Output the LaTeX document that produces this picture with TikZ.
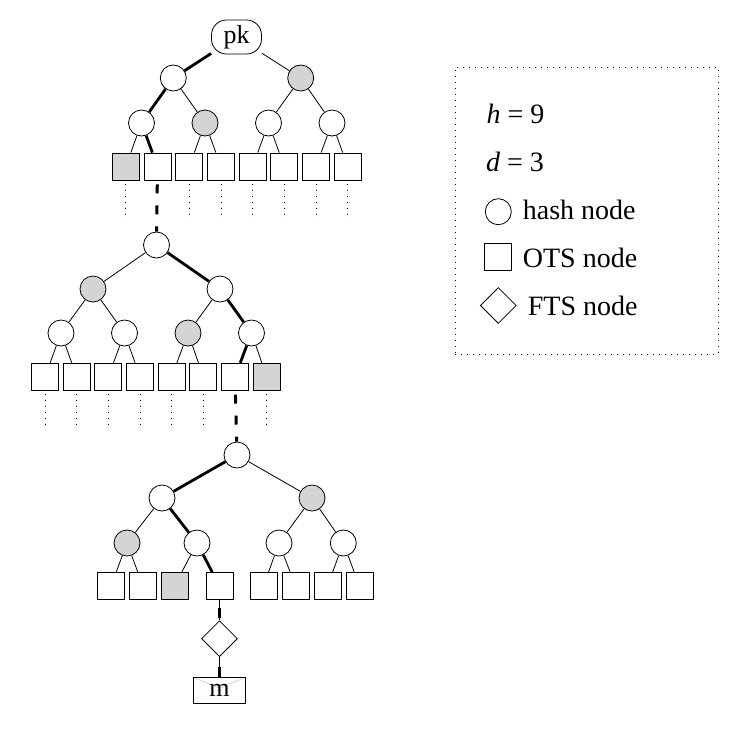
\documentclass[tikz,border=0pt]{standalone}
\usepackage{fontspec}
\setmainfont{Liberation Serif}
\usetikzlibrary{shapes.geometric}
\definecolor{lightg}{RGB}{212,212,212}
\begin{document}
\begin{tikzpicture}[x=1pt,y=-1pt,
  hnode/.style={circle,draw,line width=0.8pt,minimum size=26pt,inner sep=0pt,fill=white},
  onode/.style={rectangle,draw,line width=0.8pt,minimum size=27pt,inner sep=0pt,fill=white},
  fnode/.style={diamond,draw,line width=0.8pt,minimum size=36pt,inner sep=0pt,fill=white},
  gr/.style={fill=lightg},
  pknode/.style={rectangle,rounded corners=15pt,draw,line width=0.8pt,minimum width=50pt,minimum height=34pt,inner sep=0pt,fill=white,font=\fontsize{26}{30}\selectfont},
  msgnode/.style={rectangle,draw,line width=0.8pt,minimum width=52pt,minimum height=26pt,inner sep=0pt,font=\fontsize{26}{30}\selectfont,
    path picture={\draw[lightg,line width=0.8pt] (path picture bounding box.north west) -- ([yshift=-11pt]path picture bounding box.north) -- (path picture bounding box.north east);}},
  tedge/.style={line width=0.8pt},
  authpath/.style={line width=2.8pt},
  dotline/.style={line width=1pt,dash pattern=on 1pt off 5pt},
  link/.style={line width=3pt,dash pattern=on 0pt off 4pt on 9pt off 8pt},
  legtext/.style={anchor=base west,inner sep=0pt,font=\fontsize{28}{32}\selectfont},
  legbox/.style={draw,line width=1pt,dash pattern=on 1pt off 5pt,inner sep=0pt},
]
\useasboundingbox (0,0) rectangle (741,729);

% ---------- tree 1 ----------
\node[pknode] (pk) at (236.5,37) {pk};
\node[hnode] (a1) at (173.3,78) {};
\node[hnode,gr] (a2) at (300.7,78) {};
\node[hnode] (a11) at (141.5,123) {};
\node[hnode,gr] (a12) at (205,123) {};
\node[hnode] (a21) at (268.5,123) {};
\node[hnode] (a22) at (332,123) {};
\node[onode,gr] (a111) at (125.8,166.5) {};
\node[onode] (a112) at (157.5,166.5) {};
\node[onode] (a121) at (189.3,166.5) {};
\node[onode] (a122) at (221,166.5) {};
\node[onode] (a211) at (252.7,166.5) {};
\node[onode] (a212) at (284.3,166.5) {};
\node[onode] (a221) at (316,166.5) {};
\node[onode] (a222) at (347.7,166.5) {};
\draw[authpath] (pk) -- (a1);
\draw[tedge] (pk) -- (a2);
\draw[authpath] (a1) -- (a11);
\draw[tedge] (a1) -- (a12);
\draw[tedge] (a2) -- (a21);
\draw[tedge] (a2) -- (a22);
\draw[tedge] (a11) -- (a111);
\draw[authpath] (a11) -- (a112);
\draw[tedge] (a12) -- (a121);
\draw[tedge] (a12) -- (a122);
\draw[tedge] (a21) -- (a211);
\draw[tedge] (a21) -- (a212);
\draw[tedge] (a22) -- (a221);
\draw[tedge] (a22) -- (a222);
\foreach \n in {a111,a121,a122,a211,a212,a221,a222}
  \draw[dotline] ([yshift=-3.5pt]\n.south) -- ++(0,36);

% ---------- tree 2 ----------
\node[hnode] (b) at (156.5,245) {};
\node[hnode,gr] (b1) at (93,289) {};
\node[hnode] (b2) at (220,289) {};
\node[hnode] (b11) at (61,333) {};
\node[hnode] (b12) at (124.5,333) {};
\node[hnode,gr] (b21) at (188,333) {};
\node[hnode] (b22) at (251.5,333) {};
\node[onode] (b111) at (45,376.7) {};
\node[onode] (b112) at (76.7,376.7) {};
\node[onode] (b121) at (108.3,376.7) {};
\node[onode] (b122) at (140,376.7) {};
\node[onode] (b211) at (171.7,376.7) {};
\node[onode] (b212) at (203.3,376.7) {};
\node[onode] (b221) at (235,376.7) {};
\node[onode,gr] (b222) at (266.7,376.7) {};
\draw[tedge] (b) -- (b1);
\draw[authpath] (b) -- (b2);
\draw[tedge] (b1) -- (b11);
\draw[tedge] (b1) -- (b12);
\draw[tedge] (b2) -- (b21);
\draw[authpath] (b2) -- (b22);
\draw[tedge] (b11) -- (b111);
\draw[tedge] (b11) -- (b112);
\draw[tedge] (b12) -- (b121);
\draw[tedge] (b12) -- (b122);
\draw[tedge] (b21) -- (b211);
\draw[tedge] (b21) -- (b212);
\draw[authpath] (b22) -- (b221);
\draw[tedge] (b22) -- (b222);
\foreach \n in {b111,b112,b121,b122,b211,b212,b222}
  \draw[dotline] ([yshift=-3.5pt]\n.south) -- ++(0,36);
\draw[link] (a112) -- (b);

% ---------- tree 3 ----------
\node[hnode] (c) at (237,455) {};
\node[hnode] (c1) at (162,498) {};
\node[hnode,gr] (c2) at (312,498) {};
\node[hnode,gr] (c11) at (127,543) {};
\node[hnode] (c12) at (197,543) {};
\node[hnode] (c21) at (279,543) {};
\node[hnode] (c22) at (343.3,543) {};
\node[onode] (c111) at (111,586) {};
\node[onode] (c112) at (143,586) {};
\node[onode,gr] (c121) at (174.5,586) {};
\node[onode] (c122) at (219.5,586) {};
\node[onode] (c211) at (263.5,586) {};
\node[onode] (c212) at (295.5,586) {};
\node[onode] (c221) at (327.5,586) {};
\node[onode] (c222) at (359.5,586) {};
\draw[authpath] (c) -- (c1);
\draw[tedge] (c) -- (c2);
\draw[tedge] (c1) -- (c11);
\draw[authpath] (c1) -- (c12);
\draw[tedge] (c2) -- (c21);
\draw[tedge] (c2) -- (c22);
\draw[tedge] (c11) -- (c111);
\draw[tedge] (c11) -- (c112);
\draw[tedge] (c12) -- (c121);
\draw[authpath] (c12) -- (c122);
\draw[tedge] (c21) -- (c211);
\draw[tedge] (c21) -- (c212);
\draw[tedge] (c22) -- (c221);
\draw[tedge] (c22) -- (c222);
\draw[link] (b221) -- (c);

% ---------- FTS and message ----------
\node[fnode] (fts) at (219.5,638.7) {};
\node[msgnode] (msg) at (219.5,690.3) {m};
\draw[tedge] (c122) -- (fts);
\draw[line width=3pt,dash pattern=on 0pt off 8pt on 10pt off 40pt] (c122) -- (fts);
\draw[tedge] (fts) -- (msg);
\draw[line width=3pt,dash pattern=on 0pt off 10pt on 11pt off 40pt] (fts) -- (msg);

% ---------- legend ----------
\node[legbox,minimum width=263pt,minimum height=287pt] (leg) at (586.5,210.5) {};
\node[legtext] (lh) at (486.5,123.3) {{\itshape h} = 9};
\node[legtext] (ld) at (486,171) {{\itshape d} = 3};
\node[hnode] (lc) at (498.3,211.7) {};
\node[legtext] (lct) at (522.7,219.3) {hash node};
\node[onode] (ls) at (498.3,257.3) {};
\node[legtext] (lst) at (522.7,267.3) {OTS node};
\node[fnode] (lf) at (498.3,305.5) {};
\node[legtext] (lft) at (527.7,315) {FTS node};
\end{tikzpicture}
\end{document}
